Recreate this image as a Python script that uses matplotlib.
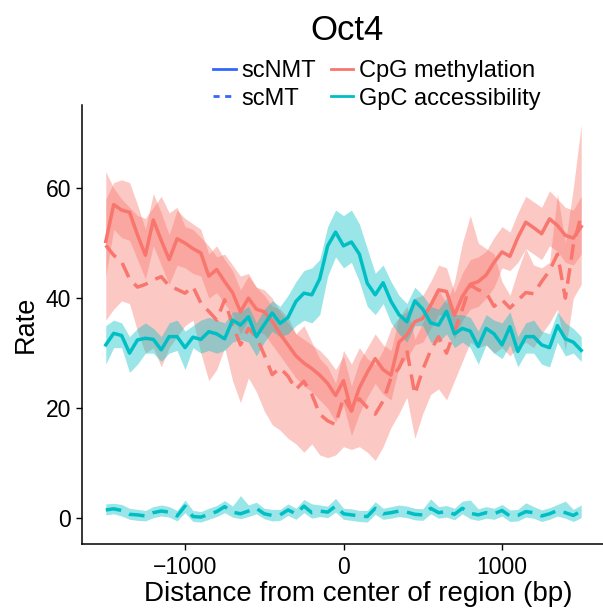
import numpy as np
import matplotlib.pyplot as plt
from matplotlib.lines import Line2D

plt.rcParams['font.family'] = ['Liberation Sans', 'DejaVu Sans']

# distance from region centre (bp), 50 bp bins
dist = np.arange(-1500, 1501, 50)

# CpG methylation, scNMT (solid)
cpg_nmt = [50.3, 57.0, 56.0, 55.6, 51.5, 47.8, 54.2, 50.5, 47.0, 50.8,
           50.0, 49.0, 48.2, 44.0, 45.2, 43.0, 41.0, 37.5, 40.0, 38.0,
           37.5, 35.8, 33.5, 31.5, 29.5, 28.2, 27.2, 26.0, 24.5, 22.3,
           25.0, 19.5, 23.7, 26.5, 29.0, 27.0, 26.0, 32.0, 33.3, 35.7,
           36.3, 38.7, 41.5, 41.2, 36.9, 40.3, 42.5, 43.0, 44.2, 46.5,
           48.4, 47.6, 51.0, 53.8, 52.8, 51.7, 54.4, 53.2, 51.4, 50.9, 53.0]
cpg_nmt_lo = [44.0, 52.5, 51.0, 50.5, 47.0, 43.5, 49.5, 46.0, 42.5, 46.0,
              45.5, 44.5, 44.0, 40.0, 41.0, 39.0, 37.0, 33.5, 36.0, 34.0,
              33.5, 31.5, 29.5, 27.5, 25.5, 24.0, 23.0, 21.5, 20.0, 17.5,
              20.5, 15.0, 19.0, 22.0, 24.5, 22.5, 21.5, 27.5, 29.0, 31.5,
              32.0, 34.5, 37.0, 37.0, 32.5, 36.0, 38.0, 38.5, 40.0, 42.0,
              45.5, 45.0, 46.5, 49.0, 48.0, 47.0, 49.5, 48.5, 46.5, 46.0, 48.0]
cpg_nmt_hi = [58.0, 61.0, 61.5, 61.0, 57.0, 52.5, 59.0, 55.5, 51.5, 56.0,
              54.5, 53.5, 52.5, 48.0, 49.5, 47.0, 45.0, 41.5, 44.0, 42.0,
              41.5, 40.0, 37.5, 35.5, 33.5, 32.5, 31.5, 30.5, 29.0, 27.0,
              29.5, 24.0, 28.5, 31.0, 33.5, 31.5, 30.5, 36.5, 37.5, 40.0,
              40.5, 43.0, 46.0, 45.5, 41.0, 44.5, 47.0, 47.5, 48.5, 51.0,
              53.0, 52.0, 55.5, 58.5, 57.5, 56.5, 59.5, 58.0, 56.5, 56.0, 58.5]

# CpG methylation, scMT (dashed)
cpg_mt = [49.6, 47.8, 46.6, 43.5, 42.0, 42.5, 43.3, 43.9, 42.2, 41.6,
          40.9, 42.1, 39.1, 37.6, 36.0, 39.7, 35.1, 31.5, 34.5, 33.0,
          29.7, 26.1, 27.3, 25.8, 23.4, 24.9, 22.5, 18.9, 17.7, 17.0,
          22.0, 19.5, 21.7, 20.1, 18.9, 21.3, 25.5, 27.3, 30.5, 22.5,
          27.0, 30.5, 33.0, 30.0, 33.9, 38.0, 42.4, 41.5, 41.0, 38.5,
          39.7, 38.2, 39.6, 41.0, 40.8, 43.0, 45.0, 48.0, 40.0, 49.6, 55.0]
cpg_mt_lo = [36.0, 38.0, 39.5, 39.0, 34.0, 30.0, 31.0, 27.5, 31.0, 33.0,
             35.0, 36.0, 30.0, 25.0, 27.0, 31.0, 25.0, 21.0, 25.5, 23.0,
             19.5, 17.0, 16.0, 14.5, 13.5, 12.0, 13.5, 11.5, 11.0, 11.5,
             13.0, 12.5, 13.0, 12.0, 10.5, 13.0, 16.5, 19.0, 22.0, 14.5,
             19.0, 22.5, 23.5, 21.5, 25.0, 28.5, 32.0, 31.0, 31.5, 30.0,
             31.0, 29.5, 31.0, 32.0, 31.0, 33.5, 35.5, 38.0, 30.5, 40.0, 42.5]
cpg_mt_hi = [63.0, 60.0, 58.0, 56.5, 55.0, 54.5, 56.5, 58.5, 55.5, 56.5,
             53.0, 52.5, 51.0, 49.5, 47.5, 48.0, 46.0, 44.0, 44.5, 42.0,
             40.5, 38.5, 38.0, 36.5, 33.5, 35.0, 32.0, 29.0, 27.5, 24.5,
             30.5, 28.0, 31.0, 29.0, 28.0, 30.5, 34.5, 36.5, 38.5, 32.5,
             35.5, 38.5, 41.5, 39.0, 43.0, 50.0, 55.0, 50.0, 49.0, 48.0,
             43.0, 40.5, 45.0, 49.0, 46.0, 45.5, 46.5, 59.0, 50.0, 60.0, 71.5]

# GpC accessibility, scNMT (solid)
gpc_nmt = [31.5, 33.6, 33.2, 30.0, 32.4, 32.7, 32.5, 30.6, 33.0, 33.0,
           31.0, 32.9, 32.5, 33.9, 33.5, 32.6, 36.0, 35.1, 36.6, 33.0,
           35.2, 37.3, 35.4, 36.5, 39.4, 40.9, 40.6, 43.5, 49.5, 52.0,
           49.5, 50.2, 48.0, 42.7, 40.6, 42.8, 39.4, 37.0, 35.7, 39.5,
           38.0, 35.5, 35.1, 37.6, 33.5, 34.5, 34.0, 31.2, 34.5, 33.5,
           31.5, 34.8, 30.3, 33.0, 33.0, 31.5, 31.0, 35.0, 32.6, 32.0, 30.5]
gpc_nmt_lo = [28.0, 31.0, 31.0, 26.5, 28.0, 30.0, 30.0, 28.5, 30.0, 30.5,
              27.0, 31.0, 30.0, 30.5, 30.0, 30.5, 32.0, 32.5, 32.0, 29.5,
              32.0, 34.0, 33.0, 33.5, 35.0, 36.0, 35.5, 37.0, 44.0, 47.5,
              45.5, 46.5, 43.0, 38.5, 37.0, 39.0, 35.5, 33.5, 32.0, 35.0,
              35.0, 32.0, 32.0, 33.5, 31.0, 32.0, 31.0, 28.0, 31.5, 30.0,
              29.0, 31.5, 27.5, 30.0, 30.0, 28.0, 27.5, 32.0, 29.5, 30.0, 28.5]
gpc_nmt_hi = [35.0, 36.0, 35.5, 33.0, 34.5, 35.5, 34.5, 33.0, 35.5, 36.0,
              34.0, 35.0, 36.0, 36.5, 36.0, 35.5, 37.5, 37.5, 38.5, 35.5,
              38.0, 39.5, 38.5, 40.5, 43.0, 45.0, 45.5, 47.0, 53.0, 56.0,
              55.0, 56.0, 53.5, 49.0, 44.5, 46.0, 43.0, 40.5, 39.0, 42.0,
              40.5, 38.5, 38.0, 40.0, 37.0, 37.0, 36.5, 34.0, 37.0, 36.0,
              35.5, 37.5, 33.0, 35.5, 36.0, 34.0, 33.5, 37.5, 35.5, 34.5, 33.0]

# GpC accessibility, scMT (dashed, background level)
gpc_mt = [1.5, 1.7, 1.4, 0.7, 0.6, 0.4, 1.0, 1.3, 1.1, 0.4,
          2.2, 0.3, 0.2, 0.7, 1.2, 2.1, 1.1, 0.8, 1.3, 1.8,
          0.8, 0.5, 0.6, 1.5, 0.8, 2.2, 1.0, 1.3, 1.1, 2.2,
          0.8, 0.6, 0.4, 0.3, 1.8, 0.8, 1.0, 1.3, 1.1, 0.7,
          0.6, 1.8, 1.0, 1.2, 0.7, 1.8, 0.9, 0.6, 1.0, 0.8,
          1.4, 0.4, 0.5, 1.2, 1.0, 0.4, 0.8, 1.4, 1.0, 0.5, 1.3]
gpc_mt_lo = [0.6, 0.8, 0.4, -0.2, -0.4, -0.5, 0.1, 0.4, 0.2, -0.5,
             1.0, -0.6, -0.7, -0.2, 0.3, 1.0, 0.2, -0.1, 0.3, 0.8,
             -0.1, -0.5, -0.4, 0.5, -0.2, 1.0, 0.0, 0.3, 0.1, 1.1,
             -0.2, -0.4, -0.6, -0.7, 0.7, -0.2, 0.0, 0.3, 0.1, -0.3,
             -0.4, 0.8, 0.0, 0.2, -0.3, 0.8, -0.1, -0.4, 0.0, -0.2,
             0.4, -0.6, -0.5, 0.2, 0.0, -0.6, -0.2, 0.4, 0.0, -0.6, 0.1]
gpc_mt_hi = [2.6, 2.7, 2.5, 1.8, 1.6, 1.4, 2.1, 2.4, 2.1, 1.4,
             3.3, 1.4, 1.2, 1.8, 2.3, 3.2, 2.2, 4.1, 2.4, 2.9,
             1.8, 1.6, 1.6, 2.6, 1.8, 3.4, 2.6, 2.4, 2.2, 3.6,
             1.8, 1.7, 1.4, 1.4, 3.0, 1.8, 2.1, 2.4, 2.2, 1.8,
             1.7, 3.5, 2.1, 2.3, 1.8, 3.1, 3.3, 1.7, 2.1, 1.8,
             2.5, 1.5, 1.6, 2.8, 2.1, 1.5, 1.9, 2.5, 3.1, 1.6, 2.4]

red = '#F8766D'
teal = '#00BFC4'
blue = '#3366FF'
lw = 2.5
dash = (0, (4.5, 2.5))

fig = plt.figure(figsize=(6.03, 6.11), dpi=100)
ax = fig.add_axes([82 / 603, 67.5 / 611, 523 / 603, 438.5 / 611])

# methylation first, accessibility on top
ax.fill_between(dist, cpg_mt_lo, cpg_mt_hi, color=red, alpha=0.4, lw=0)
ax.fill_between(dist, cpg_nmt_lo, cpg_nmt_hi, color=red, alpha=0.4, lw=0)
ax.plot(dist, cpg_mt, color=red, lw=lw, ls=dash)
ax.plot(dist, cpg_nmt, color=red, lw=lw)
ax.fill_between(dist, gpc_mt_lo, gpc_mt_hi, color=teal, alpha=0.4, lw=0)
ax.fill_between(dist, gpc_nmt_lo, gpc_nmt_hi, color=teal, alpha=0.4, lw=0)
ax.plot(dist, gpc_mt, color=teal, lw=lw, ls=dash)
ax.plot(dist, gpc_nmt, color=teal, lw=lw)

ax.set_xlim(-1650, 1650)
ax.set_ylim(-4.6, 75.1)
ax.set_xticks([-1000, 0, 1000])
ax.set_yticks([0, 20, 40, 60])
ax.tick_params(labelsize=16.5, length=4.5, width=1, colors='black')
ax.tick_params(axis='x', pad=4.5)
for s in ['top', 'right']:
    ax.spines[s].set_visible(False)
for s in ['left', 'bottom']:
    ax.spines[s].set_linewidth(1.1)
ax.set_xlabel('Distance from center of region (bp)', fontsize=20, labelpad=1)
ax.xaxis.set_label_coords((358 - 82) / 523, -0.085)
ax.set_ylabel('Rate', fontsize=19.5, labelpad=5)

fig.text(347 / 603, 1 - 30 / 611, 'Oct4', fontsize=25, ha='center', va='center')

handles = [
    Line2D([], [], color=blue, lw=2),
    Line2D([], [], color=blue, lw=2, ls=(0, (2.2, 2))),
    Line2D([], [], color=red, lw=2),
    Line2D([], [], color=teal, lw=2),
]
labels = ['scNMT', 'scMT', 'CpG methylation', 'GpC accessibility']
fig.legend(handles, labels, ncol=2, loc='center', fontsize=17,
           bbox_to_anchor=(377 / 603, 1 - 85 / 611), frameon=False,
           handlelength=0.95, handletextpad=0.25, columnspacing=0.6,
           labelspacing=0.22, borderpad=0)

fig.savefig('out.png', dpi=100)
